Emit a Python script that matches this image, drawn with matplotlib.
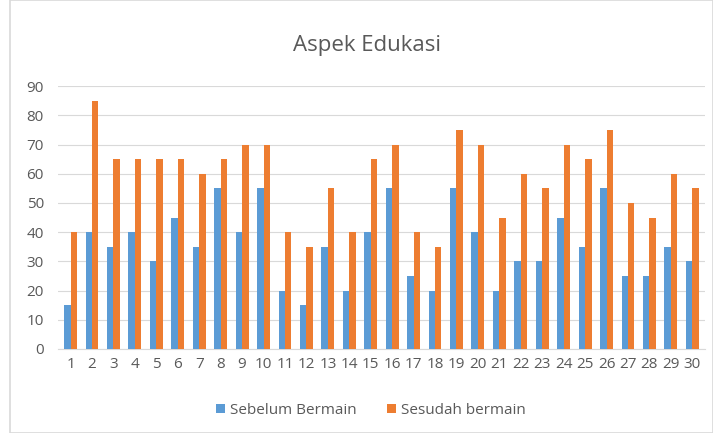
import matplotlib
matplotlib.use("Agg")
import matplotlib.pyplot as plt
import numpy as np
from matplotlib.patches import Rectangle

categories = [str(i) for i in range(1, 31)]
sebelum = [15, 40, 35, 40, 30, 45, 35, 55, 40, 55, 20, 15, 35, 20, 40,
           55, 25, 20, 55, 40, 20, 30, 30, 45, 35, 55, 25, 25, 35, 30]
sesudah = [40, 85, 65, 65, 65, 65, 60, 65, 70, 70, 40, 35, 55, 40, 65,
           70, 40, 35, 75, 70, 45, 60, 55, 70, 65, 75, 50, 45, 60, 55]
yticks = [0, 10, 20, 30, 40, 50, 60, 70, 80, 90]

plt.rcParams['font.family'] = ['Open Sans', 'DejaVu Sans']
txt = '#595959'

fig = plt.figure(figsize=(7.13, 4.33), dpi=100)
ax = fig.add_axes([0.081, 0.194, 0.908, 0.607])

x = np.arange(1, 31)
w = 0.3
ax.bar(x - w/2, sebelum, w, color='#5B9BD5', label='Sebelum Bermain', zorder=3)
ax.bar(x + w/2, sesudah, w, color='#ED7D31', label='Sesudah bermain', zorder=3)

ax.set_xlim(0.4, 30.6)
ax.set_ylim(0, 90)
ax.set_yticks(yticks)
ax.set_xticks(x)
ax.set_xticklabels(categories)
ax.grid(axis='y', color='#D9D9D9', linewidth=0.8, zorder=0)
for s in ['top', 'right', 'left']:
    ax.spines[s].set_visible(False)
ax.spines['bottom'].set_color('#D9D9D9')
ax.tick_params(axis='both', length=0, colors=txt, labelsize=11)
ax.tick_params(axis='x', pad=6)
ax.tick_params(axis='y', pad=10)

fig.text(0.515, 0.895, 'Aspek Edukasi', ha='center', va='center', fontsize=16, color=txt)

leg = fig.legend(loc='center', bbox_to_anchor=(0.52, 0.052), ncol=2, frameon=False,
                 fontsize=11, handlelength=0.6, handleheight=0.6, columnspacing=2.0,
                 handletextpad=0.3)
for t in leg.get_texts():
    t.set_color(txt)

fig.patches.append(Rectangle((10/713, 0.0), 1 - 10/713, 1.0, transform=fig.transFigure,
                             fill=False, edgecolor='#D9D9D9', linewidth=1.2))

fig.savefig('out.png', dpi=100)
